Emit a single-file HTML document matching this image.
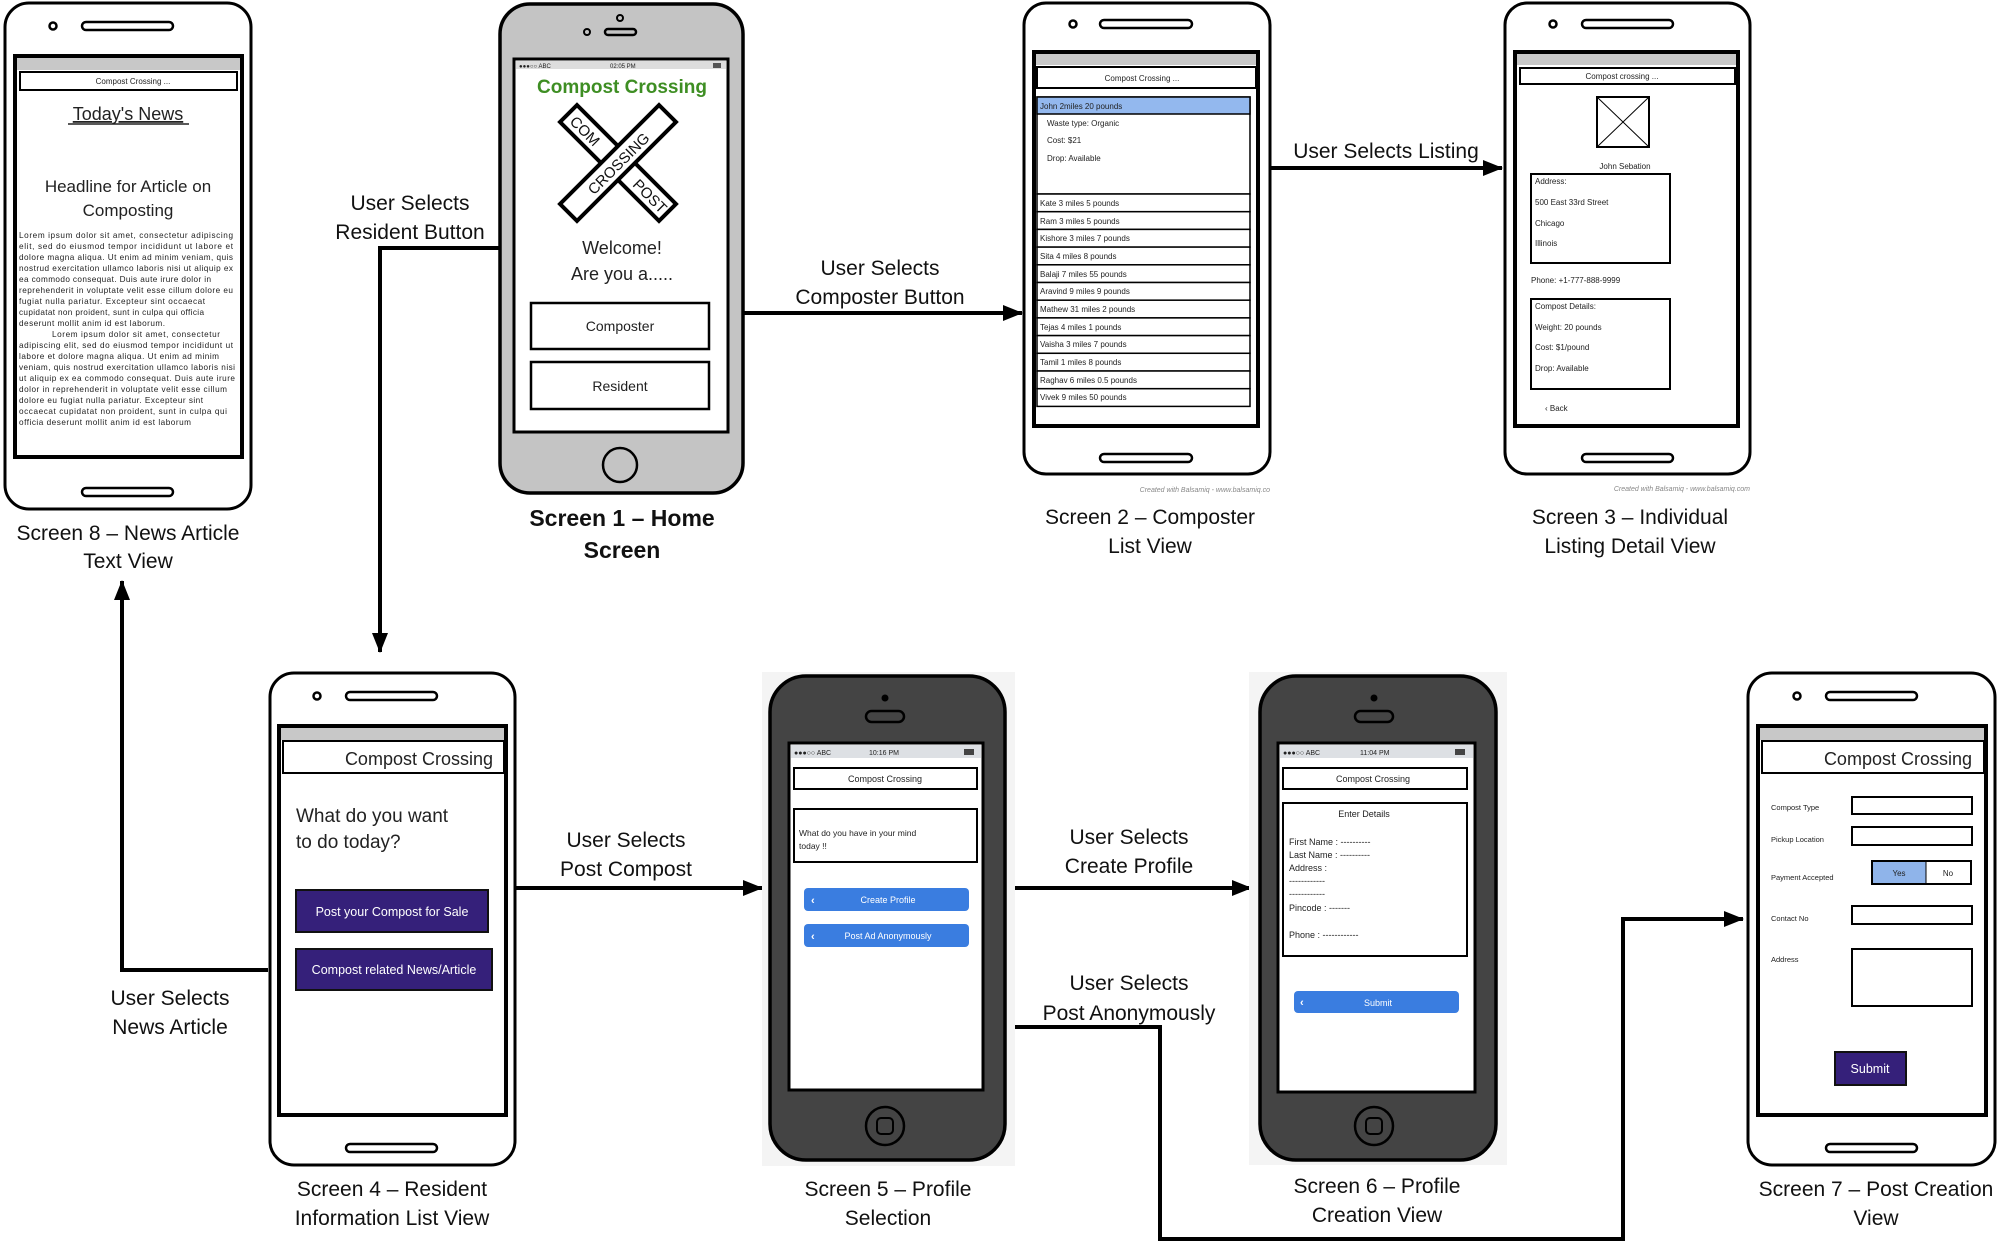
<!DOCTYPE html>
<html><head><meta charset="utf-8"><style>
html,body{margin:0;padding:0;background:#fff;}
svg{display:block;}
.lab{font-family:"Liberation Sans Narrow","Liberation Sans",sans-serif;font-size:21px;fill:#111;text-anchor:middle;}
.b{font-family:"Liberation Sans",sans-serif;fill:#222;}
</style></head><body>
<svg width="2008" height="1242" viewBox="0 0 2008 1242" xmlns="http://www.w3.org/2000/svg">
<defs>
<marker id="ah" markerWidth="10" markerHeight="10" refX="9" refY="5" orient="auto" markerUnits="userSpaceOnUse"><path d="M0,0 L10,5 L0,10 z" fill="#000"/></marker>
<marker id="ah2" markerWidth="20" markerHeight="16" refX="19" refY="8" orient="auto" markerUnits="userSpaceOnUse"><path d="M0,0 L20,8 L0,16 z" fill="#000"/></marker>
</defs>

<!-- ========== CONNECTORS ========== -->
<g stroke="#000" stroke-width="4" fill="none">
<polyline points="499,248 380,248 380,652" marker-end="url(#ah2)"/>
<line x1="743" y1="313" x2="1022" y2="313" marker-end="url(#ah2)"/>
<line x1="1270" y1="168" x2="1502" y2="168" marker-end="url(#ah2)"/>
<polyline points="268,970 122,970 122,581" marker-end="url(#ah2)"/>
<line x1="515" y1="888" x2="762" y2="888" marker-end="url(#ah2)"/>
<line x1="1013" y1="888" x2="1251" y2="888" marker-end="url(#ah2)"/>
<polyline points="1013,1027 1160,1027 1160,1239 1623,1239 1623,919 1743,919" marker-end="url(#ah2)"/>
</g>

<!-- connector labels -->
<text class="lab" x="410" y="210">User Selects</text>
<text class="lab" x="410" y="239">Resident Button</text>
<text class="lab" x="880" y="275">User Selects</text>
<text class="lab" x="880" y="304">Composter Button</text>
<text class="lab" x="1386" y="158">User Selects Listing</text>
<text class="lab" x="170" y="1005">User Selects</text>
<text class="lab" x="170" y="1034">News Article</text>
<text class="lab" x="626" y="847">User Selects</text>
<text class="lab" x="626" y="876">Post Compost</text>
<text class="lab" x="1129" y="844">User Selects</text>
<text class="lab" x="1129" y="873">Create Profile</text>
<text class="lab" x="1129" y="990">User Selects</text>
<text class="lab" x="1129" y="1020">Post Anonymously</text>

<!-- screen labels -->
<text class="lab" x="128" y="540">Screen 8 – News Article</text>
<text class="lab" x="128" y="568">Text View</text>
<text class="lab" x="622" y="526" style="font-weight:bold;font-size:23px">Screen 1 – Home</text>
<text class="lab" x="622" y="558" style="font-weight:bold;font-size:23px">Screen</text>
<text class="lab" x="1150" y="524">Screen 2 – Composter</text>
<text class="lab" x="1150" y="553">List View</text>
<text class="lab" x="1630" y="524">Screen 3 – Individual</text>
<text class="lab" x="1630" y="553">Listing Detail View</text>
<text class="lab" x="392" y="1196">Screen 4 – Resident</text>
<text class="lab" x="392" y="1225">Information List View</text>
<text class="lab" x="888" y="1196">Screen 5 – Profile</text>
<text class="lab" x="888" y="1225">Selection</text>
<text class="lab" x="1377" y="1193">Screen 6 – Profile</text>
<text class="lab" x="1377" y="1222">Creation View</text>
<text class="lab" x="1876" y="1196">Screen 7 – Post Creation</text>
<text class="lab" x="1876" y="1225">View</text>

<!-- ========== SCREEN 8 ========== -->
<g>
<rect x="5" y="3" width="246" height="506" rx="24" fill="#fff" stroke="#000" stroke-width="3"/>
<circle cx="53" cy="26" r="3.5" fill="none" stroke="#000" stroke-width="2.5"/>
<rect x="82" y="22" width="91" height="8" rx="4" fill="none" stroke="#000" stroke-width="2.5"/>
<rect x="82" y="488" width="91" height="8" rx="4" fill="none" stroke="#000" stroke-width="2.5"/>
<rect x="15" y="56" width="227" height="401" fill="#fff" stroke="#000" stroke-width="4"/>
<rect x="17" y="58" width="223" height="12" fill="#c8c8c8"/>
<rect x="20" y="72" width="217" height="18" fill="#fff" stroke="#000" stroke-width="2"/>
<text class="b" x="133" y="84" font-size="8" text-anchor="middle">Compost Crossing   ...</text>
<text class="b" x="128" y="120" font-size="18" text-anchor="middle" text-decoration="underline">Today's News</text>
<line x1="68" y1="124" x2="189" y2="124" stroke="#222" stroke-width="1.5"/>
<text class="b" x="128" y="192" font-size="17" text-anchor="middle">Headline for Article on</text>
<text class="b" x="128" y="216" font-size="17" text-anchor="middle">Composting</text>
<g class="b" font-size="8.2">
<text x="19" y="238" textLength="214">Lorem ipsum dolor sit amet, consectetur adipiscing</text>
<text x="19" y="249" textLength="214">elit, sed do eiusmod tempor incididunt ut labore et</text>
<text x="19" y="260" textLength="214">dolore magna aliqua. Ut enim ad minim veniam, quis</text>
<text x="19" y="271" textLength="214">nostrud exercitation ullamco laboris nisi ut aliquip ex</text>
<text x="19" y="282" textLength="192">ea commodo consequat. Duis aute irure dolor in</text>
<text x="19" y="293" textLength="214">reprehenderit in voluptate velit esse cillum dolore eu</text>
<text x="19" y="304" textLength="186">fugiat nulla pariatur. Excepteur sint occaecat</text>
<text x="19" y="315" textLength="185">cupidatat non proident, sunt in culpa qui officia</text>
<text x="19" y="326" textLength="146">deserunt mollit anim id est laborum.</text>
<text x="52" y="337" textLength="168">Lorem ipsum dolor sit amet, consectetur</text>
<text x="19" y="348" textLength="214">adipiscing elit, sed do eiusmod tempor incididunt ut</text>
<text x="19" y="359" textLength="200">labore et dolore magna aliqua. Ut enim ad minim</text>
<text x="19" y="370" textLength="216">veniam, quis nostrud exercitation ullamco laboris nisi</text>
<text x="19" y="381" textLength="216">ut aliquip ex ea commodo consequat. Duis aute irure</text>
<text x="19" y="392" textLength="208">dolor in reprehenderit in voluptate velit esse cillum</text>
<text x="19" y="403" textLength="184">dolore eu fugiat nulla pariatur. Excepteur sint</text>
<text x="19" y="414" textLength="208">occaecat cupidatat non proident, sunt in culpa qui</text>
<text x="19" y="425" textLength="172">officia deserunt mollit anim id est laborum</text>
</g>
</g>

<!-- ========== SCREEN 1 ========== -->
<g>
<rect x="500" y="4" width="243" height="489" rx="30" fill="#c4c4c4" stroke="#000" stroke-width="3.5"/>
<circle cx="620" cy="18" r="3" fill="none" stroke="#000" stroke-width="2"/>
<circle cx="587" cy="32" r="3" fill="none" stroke="#000" stroke-width="2"/>
<rect x="605" y="29" width="31" height="6" rx="3" fill="none" stroke="#000" stroke-width="2.5"/>
<rect x="514" y="59" width="214" height="373" fill="#fff" stroke="#000" stroke-width="3"/>
<rect x="516" y="61" width="210" height="8" fill="#ddd"/>
<text class="b" x="519" y="68" font-size="6">●●●○○ ABC</text>
<text class="b" x="610" y="68" font-size="6">02:05 PM</text>
<rect x="713" y="63" width="8" height="5" fill="#555"/>
<text x="622" y="93" font-family="Liberation Sans,sans-serif" font-weight="bold" font-size="19" fill="#3e8e23" text-anchor="middle">Compost Crossing</text>
<g transform="translate(618,163) rotate(45)">
<rect x="-70" y="-12" width="140" height="24" fill="#fff" stroke="#000" stroke-width="4"/>
</g>
<g transform="translate(618,163) rotate(-45)">
<rect x="-70" y="-12" width="140" height="24" fill="#fff" stroke="#000" stroke-width="4"/>
<text x="0" y="6" font-family="Liberation Sans,sans-serif" font-size="15" text-anchor="middle" fill="#111">CROSSING</text>
</g>
<g transform="translate(618,163) rotate(45)" font-family="Liberation Sans,sans-serif" font-size="15" fill="#111" text-anchor="middle">
<text x="-46" y="6">COM</text><text x="46" y="6">POST</text>
</g>
<text class="b" x="622" y="254" font-size="18" text-anchor="middle">Welcome!</text>
<text class="b" x="622" y="280" font-size="18" text-anchor="middle">Are you a.....</text>
<rect x="531" y="303" width="178" height="46" fill="#fff" stroke="#000" stroke-width="2.5"/>
<text class="b" x="620" y="331" font-size="14" text-anchor="middle">Composter</text>
<rect x="531" y="362" width="178" height="47" fill="#fff" stroke="#000" stroke-width="2.5"/>
<text class="b" x="620" y="391" font-size="14" text-anchor="middle">Resident</text>
<circle cx="620" cy="465" r="17" fill="none" stroke="#000" stroke-width="2.5"/>
</g>

<!-- ========== SCREEN 2 ========== -->
<g>
<rect x="1024" y="3" width="246" height="471" rx="22" fill="#fff" stroke="#000" stroke-width="3"/>
<circle cx="1073" cy="24" r="3.5" fill="none" stroke="#000" stroke-width="2.5"/>
<rect x="1100" y="20" width="92" height="8" rx="4" fill="none" stroke="#000" stroke-width="2.5"/>
<rect x="1100" y="454" width="92" height="8" rx="4" fill="none" stroke="#000" stroke-width="2.5"/>
<rect x="1034" y="52" width="224" height="374" fill="#fff" stroke="#000" stroke-width="4"/>
<rect x="1036" y="54" width="220" height="11" fill="#c8c8c8"/>
<rect x="1037" y="67" width="219" height="21" fill="#fff" stroke="#000" stroke-width="2"/>
<text class="b" x="1142" y="81" font-size="8" text-anchor="middle">Compost Crossing   ...</text>
<rect x="1037" y="97" width="213" height="97" fill="#fff" stroke="#000" stroke-width="1.5"/>
<rect x="1037" y="97" width="213" height="17" fill="#93b8ee" stroke="#000" stroke-width="1.5"/>
<g class="b" font-size="8">
<text x="1040" y="109">John 2miles 20 pounds</text>
<text x="1047" y="126">Waste type: Organic</text>
<text x="1047" y="143">Cost: $21</text>
<text x="1047" y="161">Drop: Available</text>
</g>
<g stroke="#000" stroke-width="1.5" fill="#fff">
<rect x="1037" y="194" width="213" height="17.7"/><rect x="1037" y="211.7" width="213" height="17.7"/>
<rect x="1037" y="229.4" width="213" height="17.7"/><rect x="1037" y="247.1" width="213" height="17.7"/>
<rect x="1037" y="264.8" width="213" height="17.7"/><rect x="1037" y="282.5" width="213" height="17.7"/>
<rect x="1037" y="300.2" width="213" height="17.7"/><rect x="1037" y="317.9" width="213" height="17.7"/>
<rect x="1037" y="335.6" width="213" height="17.7"/><rect x="1037" y="353.3" width="213" height="17.7"/>
<rect x="1037" y="371" width="213" height="17.7"/><rect x="1037" y="388.7" width="213" height="17.7"/>
</g>
<g class="b" font-size="8">
<text x="1040" y="206">Kate 3 miles 5 pounds</text>
<text x="1040" y="224">Ram 3 miles 5 pounds</text>
<text x="1040" y="241">Kishore 3 miles 7 pounds</text>
<text x="1040" y="259">Sita 4 miles 8 pounds</text>
<text x="1040" y="277">Balaji 7 miles 55 pounds</text>
<text x="1040" y="294">Aravind 9 miles 9 pounds</text>
<text x="1040" y="312">Mathew 31 miles 2 pounds</text>
<text x="1040" y="330">Tejas 4 miles 1 pounds</text>
<text x="1040" y="347">Vaisha 3 miles 7 pounds</text>
<text x="1040" y="365">Tamil 1 miles 8 pounds</text>
<text x="1040" y="383">Raghav 6 miles 0.5 pounds</text>
<text x="1040" y="400">Vivek 9 miles 50 pounds</text>
</g>
<text x="1270" y="492" font-family="Liberation Sans,sans-serif" font-style="italic" font-size="7" fill="#888" text-anchor="end">Created with Balsamiq - www.balsamiq.co</text>
</g>

<!-- ========== SCREEN 3 ========== -->
<g>
<rect x="1505" y="3" width="245" height="471" rx="22" fill="#fff" stroke="#000" stroke-width="3"/>
<circle cx="1553" cy="24" r="3.5" fill="none" stroke="#000" stroke-width="2.5"/>
<rect x="1582" y="20" width="91" height="8" rx="4" fill="none" stroke="#000" stroke-width="2.5"/>
<rect x="1582" y="454" width="91" height="8" rx="4" fill="none" stroke="#000" stroke-width="2.5"/>
<rect x="1515" y="52" width="223" height="374" fill="#fff" stroke="#000" stroke-width="4"/>
<rect x="1517" y="54" width="219" height="11" fill="#c8c8c8"/>
<rect x="1520" y="68" width="215" height="16" fill="#fff" stroke="#000" stroke-width="2"/>
<text class="b" x="1622" y="79" font-size="8" text-anchor="middle">Compost crossing   ...</text>
<rect x="1597" y="97" width="52" height="50" fill="#fff" stroke="#000" stroke-width="2"/>
<line x1="1597" y1="97" x2="1649" y2="147" stroke="#000"/><line x1="1649" y1="97" x2="1597" y2="147" stroke="#000"/>
<text class="b" x="1625" y="169" font-size="8" text-anchor="middle">John Sebation</text>
<rect x="1531" y="174" width="139" height="89" fill="#fff" stroke="#000" stroke-width="2"/>
<g class="b" font-size="8">
<text x="1535" y="184">Address:</text>
<text x="1535" y="205">500 East 33rd Street</text>
<text x="1535" y="226">Chicago</text>
<text x="1535" y="246">Illinois</text>
<text x="1531" y="283">Phone: +1-777-888-9999</text>
<text x="1535" y="309">Compost Details:</text>
<text x="1535" y="330">Weight: 20 pounds</text>
<text x="1535" y="350">Cost: $1/pound</text>
<text x="1535" y="371">Drop: Available</text>
<text x="1545" y="411">‹ Back</text>
</g>
<rect x="1531" y="299" width="139" height="90" fill="none" stroke="#000" stroke-width="2"/>
<text x="1750" y="491" font-family="Liberation Sans,sans-serif" font-style="italic" font-size="7" fill="#888" text-anchor="end">Created with Balsamiq - www.balsamiq.com</text>
</g>

<!-- ========== SCREEN 4 ========== -->
<g>
<rect x="270" y="673" width="245" height="492" rx="24" fill="#fff" stroke="#000" stroke-width="3"/>
<circle cx="317" cy="696" r="3.5" fill="none" stroke="#000" stroke-width="2.5"/>
<rect x="346" y="692" width="91" height="8" rx="4" fill="none" stroke="#000" stroke-width="2.5"/>
<rect x="346" y="1144" width="91" height="8" rx="4" fill="none" stroke="#000" stroke-width="2.5"/>
<rect x="279" y="726" width="227" height="389" fill="#fff" stroke="#000" stroke-width="4"/>
<rect x="281" y="728" width="223" height="12" fill="#c8c8c8"/>
<rect x="283" y="741" width="221" height="32" fill="#fff" stroke="#000" stroke-width="2"/>
<text class="b" x="493" y="765" font-size="18" text-anchor="end">Compost Crossing</text>
<text class="b" x="296" y="822" font-size="19">What do you want</text>
<text class="b" x="296" y="848" font-size="19">to do today?</text>
<rect x="296" y="890" width="192" height="42" fill="#35207a" stroke="#111" stroke-width="2"/>
<text x="392" y="916" font-family="Liberation Sans,sans-serif" font-size="12.5" fill="#fff" text-anchor="middle">Post your Compost for Sale</text>
<rect x="296" y="949" width="196" height="41" fill="#35207a" stroke="#111" stroke-width="2"/>
<text x="394" y="974" font-family="Liberation Sans,sans-serif" font-size="12.5" fill="#fff" text-anchor="middle">Compost related News/Article</text>
</g>

<!-- ========== SCREEN 5 ========== -->
<g>
<rect x="762" y="672" width="253" height="494" fill="#f4f4f4"/>
<rect x="770" y="676" width="235" height="484" rx="36" fill="#444" stroke="#000" stroke-width="3.5"/>
<circle cx="885" cy="698" r="3.5" fill="#000"/>
<rect x="866" y="711" width="38" height="11" rx="5.5" fill="none" stroke="#000" stroke-width="2.5"/>
<rect x="789" y="743" width="194" height="347" fill="#fff" stroke="#000" stroke-width="3"/>
<rect x="791" y="745" width="190" height="13" fill="#dde0e4"/>
<text class="b" x="794" y="755" font-size="7">●●●○○ ABC</text>
<text class="b" x="869" y="755" font-size="7">10:16 PM</text>
<rect x="964" y="749" width="10" height="6" fill="#444"/>
<rect x="794" y="768" width="183" height="21" fill="#fff" stroke="#000" stroke-width="2"/>
<text class="b" x="885" y="782" font-size="9" text-anchor="middle">Compost Crossing</text>
<rect x="794" y="809" width="183" height="53" fill="#fff" stroke="#000" stroke-width="2"/>
<text class="b" x="799" y="836" font-size="8.5">What do you have in your mind</text>
<text class="b" x="799" y="849" font-size="8.5">today !!</text>
<rect x="804" y="888" width="165" height="23" rx="4" fill="#3a7de0"/>
<text x="888" y="903" font-family="Liberation Sans,sans-serif" font-size="9" fill="#fff" text-anchor="middle">Create Profile</text>
<text x="811" y="904" font-family="Liberation Sans,sans-serif" font-size="11" font-weight="bold" fill="#fff">‹</text>
<rect x="804" y="924" width="165" height="23" rx="4" fill="#3a7de0"/>
<text x="888" y="939" font-family="Liberation Sans,sans-serif" font-size="9" fill="#fff" text-anchor="middle">Post Ad Anonymously</text>
<text x="811" y="940" font-family="Liberation Sans,sans-serif" font-size="11" font-weight="bold" fill="#fff">‹</text>
<circle cx="885" cy="1126" r="19" fill="none" stroke="#000" stroke-width="2.5"/>
<rect x="877" y="1118" width="16" height="16" rx="4" fill="none" stroke="#000" stroke-width="2"/>
</g>

<!-- ========== SCREEN 6 ========== -->
<g>
<rect x="1249" y="672" width="258" height="493" fill="#f4f4f4"/>
<rect x="1260" y="676" width="236" height="484" rx="36" fill="#444" stroke="#000" stroke-width="3.5"/>
<circle cx="1374" cy="698" r="3.5" fill="#000"/>
<rect x="1355" y="711" width="38" height="11" rx="5.5" fill="none" stroke="#000" stroke-width="2.5"/>
<rect x="1278" y="743" width="197" height="349" fill="#fff" stroke="#000" stroke-width="3"/>
<rect x="1280" y="745" width="193" height="13" fill="#dde0e4"/>
<text class="b" x="1283" y="755" font-size="7">●●●○○ ABC</text>
<text class="b" x="1360" y="755" font-size="7">11:04 PM</text>
<rect x="1455" y="749" width="10" height="6" fill="#444"/>
<rect x="1283" y="768" width="184" height="21" fill="#fff" stroke="#000" stroke-width="2"/>
<text class="b" x="1373" y="782" font-size="9" text-anchor="middle">Compost Crossing</text>
<rect x="1283" y="803" width="184" height="153" fill="#fff" stroke="#000" stroke-width="2"/>
<g class="b" font-size="9">
<text x="1364" y="817" text-anchor="middle">Enter Details</text>
<text x="1289" y="845">First Name : ----------</text>
<text x="1289" y="858">Last Name : ----------</text>
<text x="1289" y="871">Address :</text>
<text x="1289" y="884">------------</text>
<text x="1289" y="897">------------</text>
<text x="1289" y="911">Pincode : -------</text>
<text x="1289" y="938">Phone : ------------</text>
</g>
<rect x="1294" y="991" width="165" height="22" rx="4" fill="#3a7de0"/>
<text x="1378" y="1006" font-family="Liberation Sans,sans-serif" font-size="9" fill="#fff" text-anchor="middle">Submit</text>
<text x="1300" y="1006" font-family="Liberation Sans,sans-serif" font-size="11" font-weight="bold" fill="#fff">‹</text>
<circle cx="1374" cy="1126" r="19" fill="none" stroke="#000" stroke-width="2.5"/>
<rect x="1366" y="1118" width="16" height="16" rx="4" fill="none" stroke="#000" stroke-width="2"/>
</g>

<!-- ========== SCREEN 7 ========== -->
<g>
<rect x="1748" y="673" width="247" height="492" rx="24" fill="#fff" stroke="#000" stroke-width="3"/>
<circle cx="1797" cy="696" r="3.5" fill="none" stroke="#000" stroke-width="2.5"/>
<rect x="1826" y="692" width="91" height="8" rx="4" fill="none" stroke="#000" stroke-width="2.5"/>
<rect x="1826" y="1144" width="91" height="8" rx="4" fill="none" stroke="#000" stroke-width="2.5"/>
<rect x="1758" y="726" width="228" height="389" fill="#fff" stroke="#000" stroke-width="4"/>
<rect x="1760" y="728" width="224" height="12" fill="#c8c8c8"/>
<rect x="1762" y="741" width="222" height="32" fill="#fff" stroke="#000" stroke-width="2"/>
<text class="b" x="1972" y="765" font-size="18" text-anchor="end">Compost Crossing</text>
<g class="b" font-size="7.5">
<text x="1771" y="810">Compost Type</text>
<text x="1771" y="842">Pickup Location</text>
<text x="1771" y="880">Payment Accepted</text>
<text x="1771" y="921">Contact No</text>
<text x="1771" y="962">Address</text>
</g>
<g fill="#fff" stroke="#000" stroke-width="2">
<rect x="1852" y="797" width="120" height="17"/>
<rect x="1852" y="827" width="120" height="18"/>
<rect x="1852" y="906" width="120" height="18"/>
<rect x="1852" y="949" width="120" height="57"/>
<rect x="1872" y="861" width="99" height="23"/>
</g>
<rect x="1873" y="862" width="53" height="21" fill="#8fb4ea"/>
<line x1="1926" y1="861" x2="1926" y2="884" stroke="#000"/>
<text class="b" x="1899" y="876" font-size="8" text-anchor="middle">Yes</text>
<text class="b" x="1948" y="876" font-size="8" text-anchor="middle">No</text>
<rect x="1835" y="1052" width="71" height="33" fill="#35207a" stroke="#111" stroke-width="2"/>
<text x="1870" y="1073" font-family="Liberation Sans,sans-serif" font-size="12.5" fill="#fff" text-anchor="middle">Submit</text>
</g>
</svg>
</body></html>
